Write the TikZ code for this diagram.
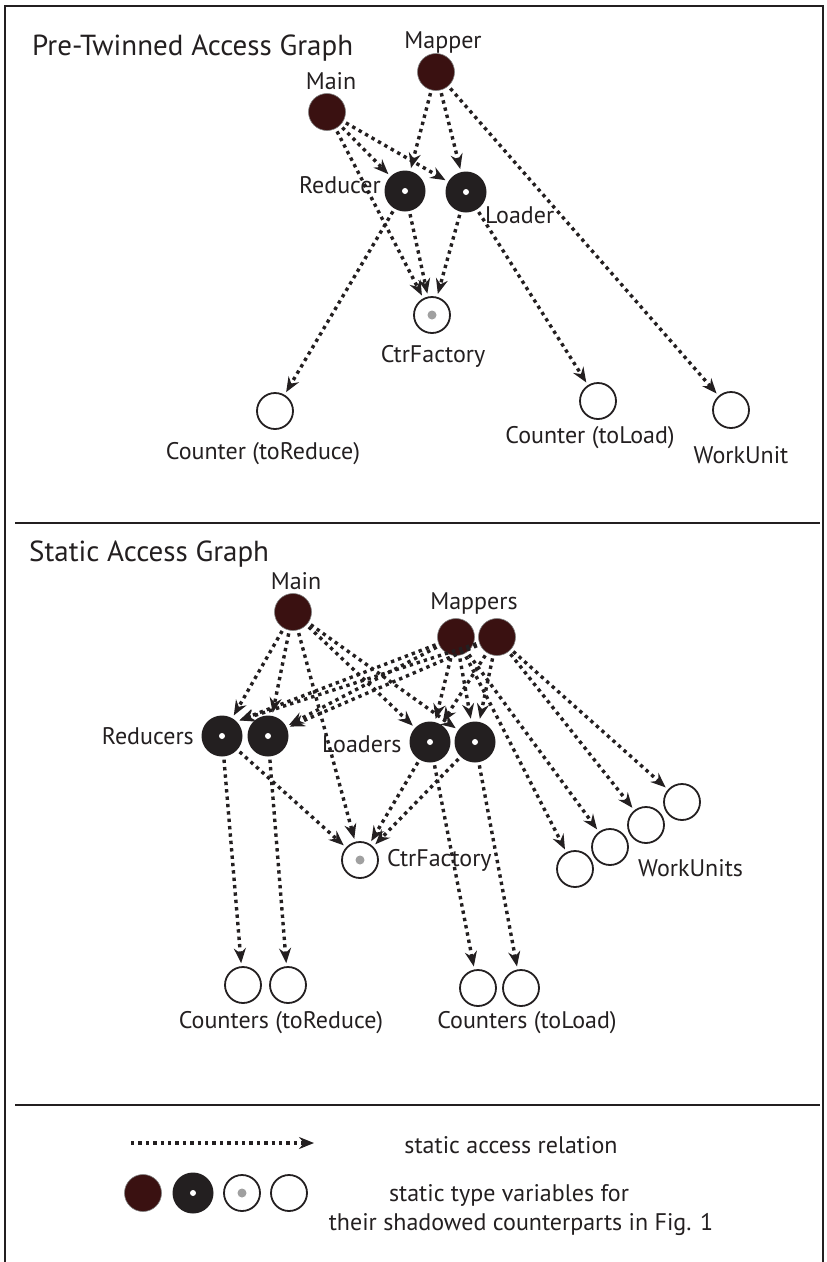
\documentclass[tikz,border=0pt]{standalone}
\usepackage{fontspec}
\setmainfont{PT Sans}
\usepackage{tikz}
\usetikzlibrary{arrows.meta}

\definecolor{drvred}{RGB}{58,17,17}
\definecolor{ink}{RGB}{35,31,32}
\definecolor{dotgray}{RGB}{160,160,160}

\tikzset{
  acc/.style={draw=ink, line width=3.4pt, dash pattern=on 3.4pt off 4pt,
    -{Stealth[length=15pt,width=12pt,inset=5pt]}, shorten <=3pt, shorten >=3pt},
  drv/.style={circle, fill=drvred, draw=gray, line width=0.6pt, minimum size=37pt, inner sep=0pt},
  twin/.style={circle, fill=ink, minimum size=41pt, inner sep=0pt,
    path picture={\fill[white] (path picture bounding box.center) circle (3pt);}},
  fac/.style={circle, draw=ink, line width=1.8pt, fill=white, minimum size=36pt, inner sep=0pt,
    path picture={\fill[dotgray] (path picture bounding box.center) circle (4.5pt);}},
  obj/.style={circle, draw=ink, line width=1.8pt, fill=white, minimum size=36pt, inner sep=0pt},
  lbl/.style={font=\fontsize{24}{29}\selectfont, text=ink, inner sep=0pt},
  ttl/.style={font=\fontsize{29}{32}\selectfont, text=ink, inner sep=0pt, anchor=base west},
  frame/.style={draw=ink, line width=1.4pt},
}

\begin{document}
\begin{tikzpicture}[x=1pt,y=-1pt]
  \useasboundingbox (0,0) rectangle (827,1262);

  % outer frame and separators
  \draw[frame] (5,1262) -- (5,6) -- (823,6) -- (823,1262);
  \draw[line width=2pt, ink] (15,523) -- (820,523);
  \draw[line width=2pt, ink] (15,1105) -- (820,1105);

  % Pre-twinned graph
  \node[ttl] (ttlA) at (32,55) {Pre-Twinned Access Graph};
  \node[drv] (mapr) at (436,72) {};
  \node[drv] (main) at (327,112) {};
  \node[twin] (red) at (405,191) {};
  \node[twin] (load) at (466,192) {};
  \node[fac] (fac) at (432,315) {};
  \node[obj] (cntR) at (275,411) {};
  \node[obj] (cntL) at (598,401) {};
  \node[obj] (wu) at (731,410) {};

  \node[lbl, anchor=base] (tMapr) at (443,48) {Mapper};
  \node[lbl, anchor=base] (tMain) at (331,89) {Main};
  \node[lbl, anchor=base east] (tRed) at (381,193) {Reducer};
  \node[lbl, anchor=base west] (tLoad) at (485,223) {Loader};
  \node[lbl, anchor=base] (tFac) at (433,362) {CtrFactory};
  \node[lbl, anchor=base] (tCntR) at (263,459) {Counter (toReduce)};
  \node[lbl, anchor=base] (tCntL) at (590,443) {Counter (toLoad)};
  \node[lbl, anchor=base] (tWu) at (741,463) {WorkUnit};

  \draw[acc] (main) -- (red);
  \draw[acc] (main) -- (load);
  \draw[acc] (mapr) -- (red);
  \draw[acc] (mapr) -- (load);
  \draw[acc] (main) -- (fac);
  \draw[acc] (red) -- (fac);
  \draw[acc] (load) -- (fac);
  \draw[acc] (red) -- (cntR);
  \draw[acc] (load) -- (cntL);
  \draw[acc] (mapr) -- (wu);

  % Static graph
  \node[ttl] (ttlB) at (29,561) {Static Access Graph};
  \node[drv] (smain) at (293,612) {};
  \node[drv] (sm1) at (456,637) {};
  \node[drv] (sm2) at (497,637) {};
  \node[twin] (sr1) at (222,736) {};
  \node[twin] (sr2) at (268,736) {};
  \node[twin] (sl1) at (430,742) {};
  \node[twin] (sl2) at (475,742) {};
  \node[fac] (sfac) at (360,860) {};
  \node[obj] (sw1) at (575,869) {};
  \node[obj] (sw2) at (610,847) {};
  \node[obj] (sw3) at (646,825) {};
  \node[obj] (sw4) at (682,802) {};
  \node[obj] (sc1) at (243,985) {};
  \node[obj] (sc2) at (288,985) {};
  \node[obj] (sc3) at (478,988) {};
  \node[obj] (sc4) at (521,988) {};

  \node[lbl, anchor=base] (tsMain) at (296,589) {Main};
  \node[lbl, anchor=base] (tsMapr) at (474,609) {Mappers};
  \node[lbl, anchor=base east] (tsRed) at (194,744) {Reducers};
  \node[lbl, anchor=base west] (tsLoad) at (322,752) {Loaders};
  \node[lbl, anchor=base west] (tsFac) at (387,866) {CtrFactory};
  \node[lbl, anchor=base west] (tsWu) at (638,876) {WorkUnits};
  \node[lbl, anchor=base] (tsCntR) at (281,1028) {Counters (toReduce)};
  \node[lbl, anchor=base] (tsCntL) at (527,1028) {Counters (toLoad)};

  \draw[acc] (smain) -- (sr1);
  \draw[acc] (smain) -- (sr2);
  \draw[acc] (smain) -- (sfac);
  \draw[acc] (smain) -- (sl1);
  \draw[acc] (smain) -- (sl2);
  \draw[acc] (sm1) -- (sr1.north east);
  \draw[acc] (sm2) -- (sr1.north east);
  \draw[acc] (sm1) -- (sr2);
  \draw[acc] (sm2) -- (sr2);
  \draw[acc] (sm1) -- (sl1);
  \draw[acc] (sm2) -- (sl1);
  \draw[acc] (sm1) -- (sl2);
  \draw[acc] (sm2) -- (sl2);
  \draw[acc] (sm1) -- (sw1);
  \draw[acc] (sm1) -- (sw2);
  \draw[acc] (sm2) -- (sw3);
  \draw[acc] (sm2) -- (sw4);
  \draw[acc] (sr1) -- (sc1);
  \draw[acc] (sr1) -- (sfac);
  \draw[acc] (sr2) -- (sc2);
  \draw[acc] (sl1) -- (sfac);
  \draw[acc] (sl2) -- (sfac);
  \draw[acc] (sl1) -- (sc3);
  \draw[acc] (sl2) -- (sc4);

  % Legend
  \coordinate (legA) at (131,1143);
  \coordinate (legB) at (314,1143);
  \draw[acc, shorten <=0pt, shorten >=0pt] (legA) -- (legB);
  \node[lbl, anchor=base] (tLegA) at (511,1153) {static access relation};
  \node[drv] (lg1) at (143,1193) {};
  \node[twin] (lg2) at (193,1193) {};
  \node[fac] (lg3) at (242,1193) {};
  \node[obj] (lg4) at (289,1193) {};
  \node[lbl, anchor=base] (tLegB) at (509,1201) {static type variables for};
  \node[lbl, anchor=base] (tLegC) at (521,1230) {their shadowed counterparts in Fig. 1};
\end{tikzpicture}
\end{document}
